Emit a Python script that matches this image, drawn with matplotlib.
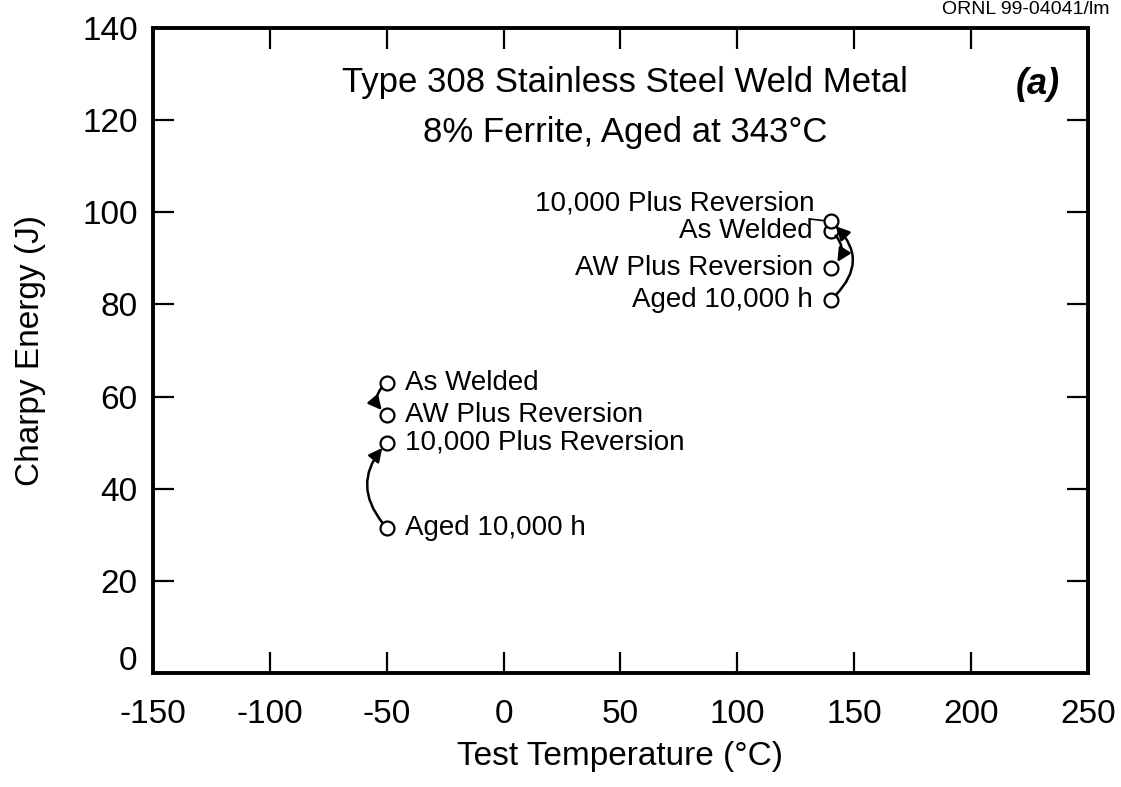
import matplotlib
matplotlib.use("Agg")
import matplotlib.pyplot as plt
from matplotlib.transforms import ScaledTranslation

plt.rcParams['font.family'] = ['Liberation Sans', 'DejaVu Sans']

# Charpy results, aged at 343 C, tested at two temperatures
conditions = ["As Welded", "AW Plus Reversion", "10,000 Plus Reversion", "Aged 10,000 h"]
temp_low = [-50, -50, -50, -50]
energy_low = [63, 56, 50, 31.5]
temp_high = [140, 140, 140, 140]
energy_high = [96, 88, 98, 81]

xticks = [-150, -100, -50, 0, 50, 100, 150, 200, 250]
yticks = [0, 20, 40, 60, 80, 100, 120, 140]

fig = plt.figure(figsize=(11.21, 7.87), dpi=100)
ax = fig.add_axes([0.1365, 0.1449, 0.8340, 0.8196])

ax.plot(temp_low, energy_low, 'o', mfc='white', mec='black', ms=10, mew=1.6, zorder=3)
ax.plot(temp_high, energy_high, 'o', mfc='white', mec='black', ms=10, mew=1.6, zorder=3)

# labels, low temperature group (to the right of the points)
for t, e, c in zip(temp_low, energy_low, conditions):
    ax.annotate(c, (t, e), xytext=(13, 0), textcoords='offset points',
                ha='left', va='center', fontsize=20)

# labels, high temperature group (to the left of the points)
for t, e, c in zip(temp_high, energy_high, conditions):
    if c == "10,000 Plus Reversion":
        ax.annotate(c, (t, e), xytext=(-12, 13), textcoords='offset points',
                    ha='right', va='center', fontsize=20,
                    arrowprops=dict(arrowstyle='-', lw=1.2, color='black',
                                    shrinkA=0, shrinkB=5))
    else:
        ax.annotate(c, (t, e), xytext=(-13, 0), textcoords='offset points',
                    ha='right', va='center', fontsize=20)

arrow_kw = dict(arrowstyle='-|>', lw=1.8, color='black', mutation_scale=20)

# reversion heat treatment steps
ax.annotate('', xy=(temp_low[1], energy_low[1]), xytext=(temp_low[0], energy_low[0]),
            arrowprops=dict(connectionstyle='arc3,rad=0.6', shrinkA=5, shrinkB=5, **arrow_kw))
ax.annotate('', xy=(temp_low[2], energy_low[2]), xytext=(temp_low[3], energy_low[3]),
            arrowprops=dict(connectionstyle='arc3,rad=-0.45', shrinkA=5, shrinkB=5, **arrow_kw))
ax.annotate('', xy=(temp_high[1] + 1, energy_high[1]), xytext=(temp_high[0], energy_high[0]),
            arrowprops=dict(connectionstyle='arc3,rad=-0.5', shrinkA=5, shrinkB=5, **arrow_kw))
ax.annotate('', xy=(temp_high[2], energy_high[2]), xytext=(temp_high[3], energy_high[3]),
            arrowprops=dict(connectionstyle='arc3,rad=0.55', shrinkA=5, shrinkB=5, **arrow_kw))

ax.set_xlim(-150, 250)
ax.set_ylim(0, 140)
ax.set_xticks(xticks)
ax.set_yticks(yticks)
ax.set_xticklabels([str(v) for v in xticks])
ax.set_yticklabels([str(v) for v in yticks])

ax.tick_params(direction='in', length=15, width=1.6, top=True, right=True,
               labelsize=24)
ax.tick_params(axis='x', pad=19)
ax.tick_params(axis='y', pad=11)
for s in ax.spines.values():
    s.set_linewidth(2.8)

# lift the "0" label clear of "-150"
lab0 = ax.get_yticklabels()[0]
lab0.set_transform(lab0.get_transform() + ScaledTranslation(0, 0.15, fig.dpi_scale_trans))

ax.set_xlabel("Test Temperature (\u00b0C)", fontsize=24, labelpad=8)
ax.set_ylabel("Charpy Energy (J)", fontsize=24, labelpad=26)

ax.text(0.505, 0.915, "Type 308 Stainless Steel Weld Metal", transform=ax.transAxes,
        ha='center', va='center', fontsize=25)
ax.text(0.505, 0.838, "8% Ferrite, Aged at 343\u00b0C", transform=ax.transAxes,
        ha='center', va='center', fontsize=25)
ax.text(0.97, 0.912, "(a)", transform=ax.transAxes, ha='right', va='center',
        fontsize=26, fontweight='bold', fontstyle='italic')

fig.text(0.99, 0.999, "ORNL 99-04041/lm", ha='right', va='top', fontsize=14)

fig.savefig("out.png", dpi=100)
